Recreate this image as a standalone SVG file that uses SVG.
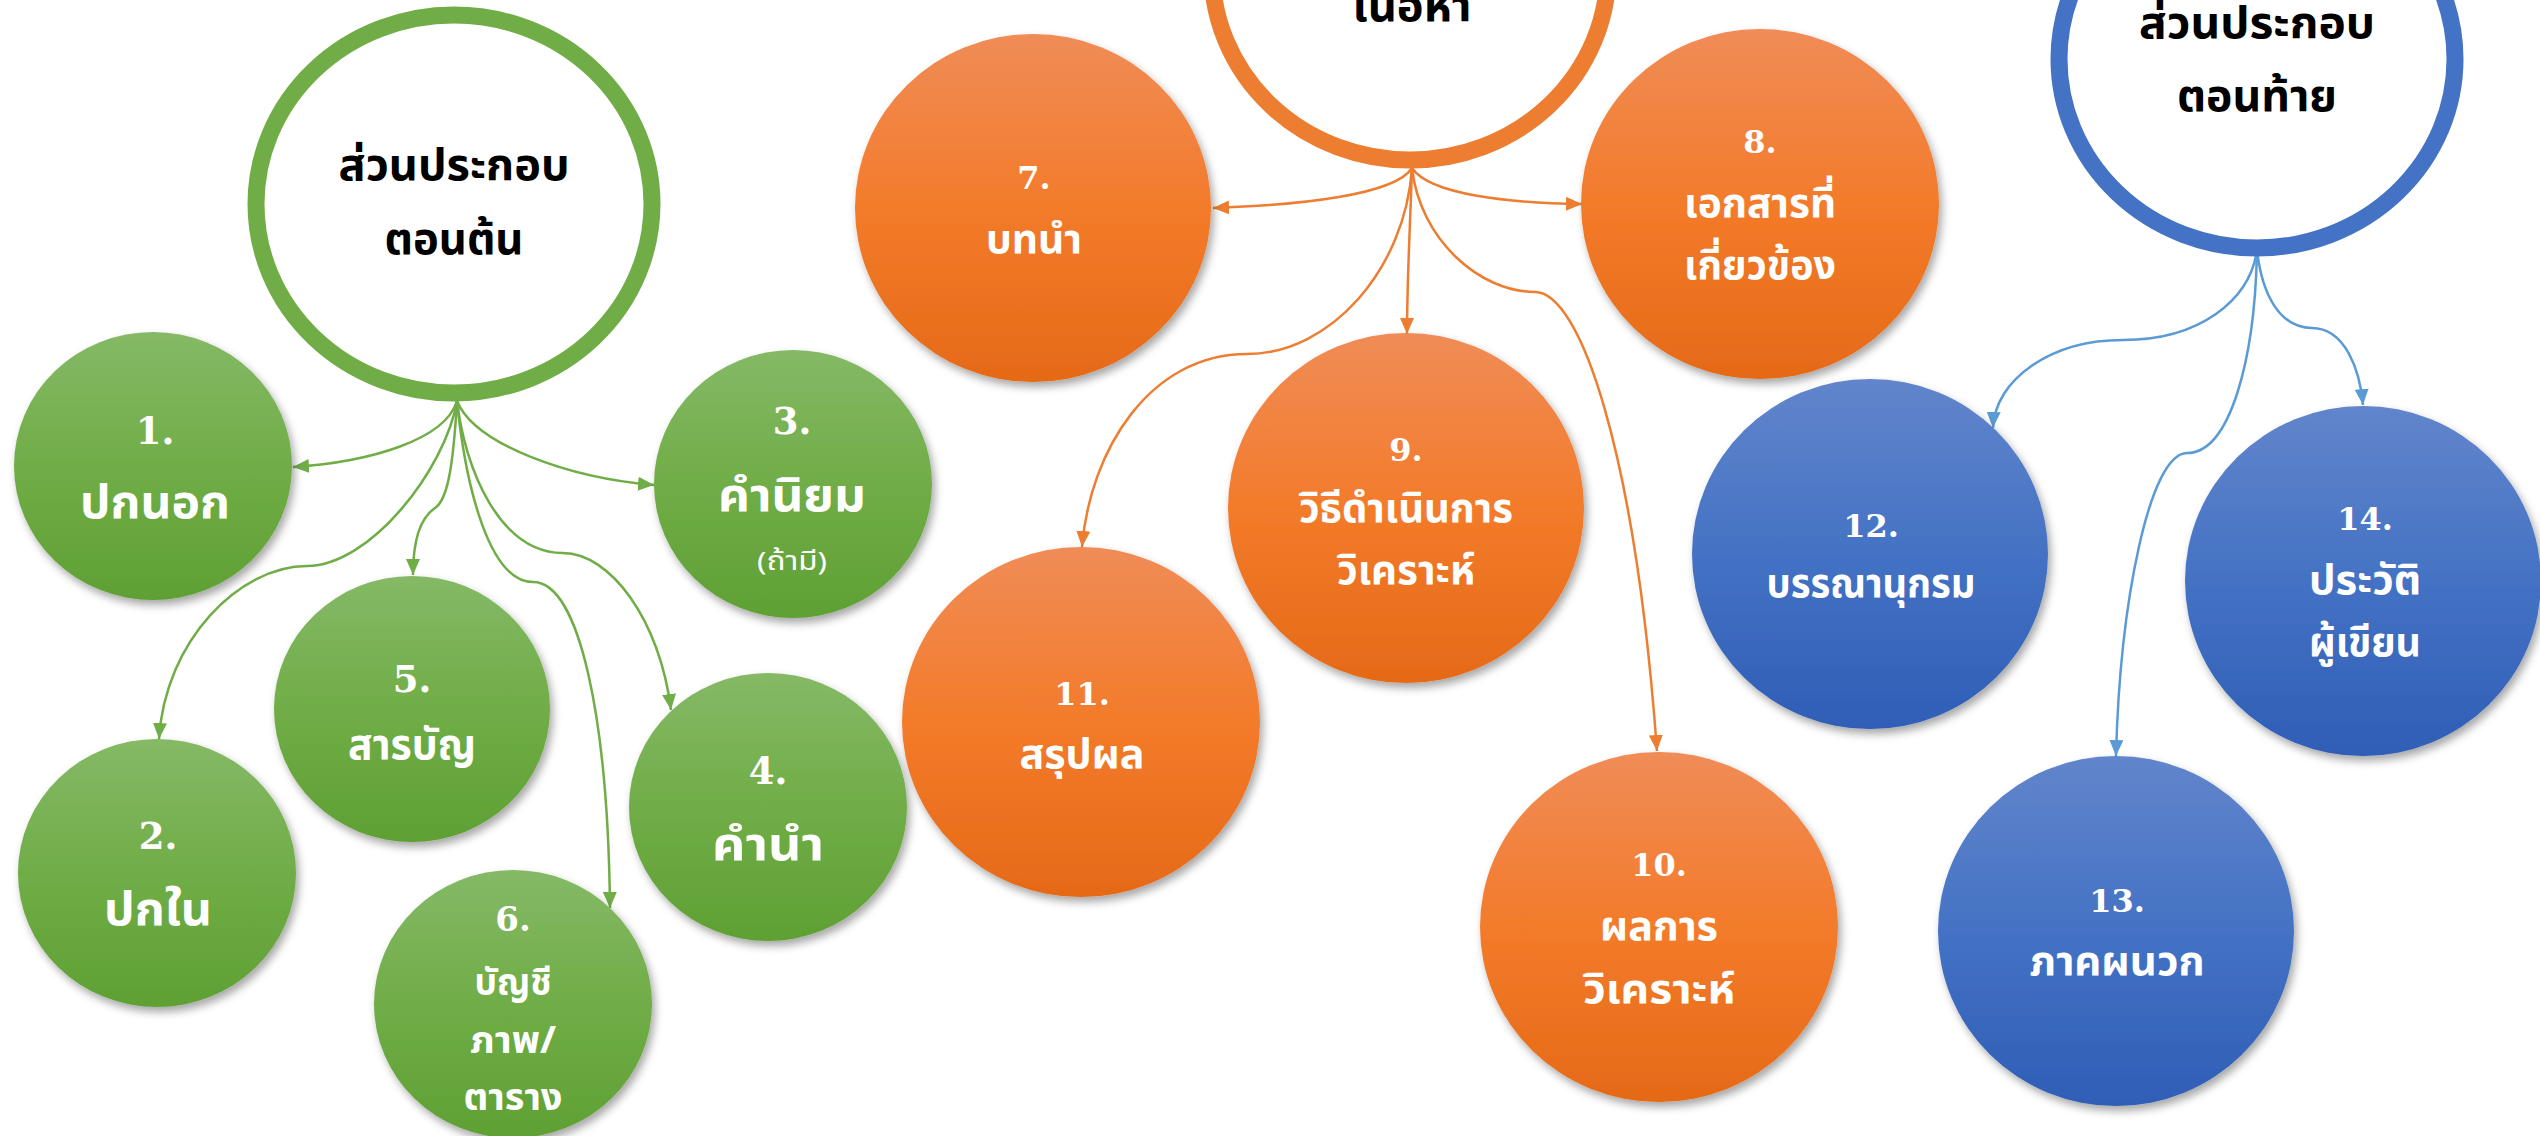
<svg xmlns="http://www.w3.org/2000/svg" width="2540" height="1136" viewBox="0 0 2540 1136">
<defs>
<linearGradient id="gG" x1="0" y1="0" x2="0" y2="1">
<stop offset="0" stop-color="#85B967"/><stop offset="0.5" stop-color="#70AD47"/><stop offset="1" stop-color="#5FA034"/>
</linearGradient>
<linearGradient id="gO" x1="0" y1="0" x2="0" y2="1">
<stop offset="0" stop-color="#F08C57"/><stop offset="0.5" stop-color="#F37B2A"/><stop offset="1" stop-color="#E56A18"/>
</linearGradient>
<linearGradient id="gB" x1="0" y1="0" x2="0" y2="1">
<stop offset="0" stop-color="#6285CB"/><stop offset="0.5" stop-color="#4472C4"/><stop offset="1" stop-color="#2F5EB6"/>
</linearGradient>
<filter id="sh" x="-20%" y="-20%" width="140%" height="140%">
<feDropShadow dx="3" dy="5" stdDeviation="4" flood-color="#000" flood-opacity="0.35"/>
</filter>
<marker id="mG" viewBox="0 0 16 14" refX="16" refY="7" markerWidth="16" markerHeight="14" markerUnits="userSpaceOnUse" orient="auto"><path d="M0,0 L16,7 L0,14 Z" fill="#70AD47"/></marker>
<marker id="mO" viewBox="0 0 16 14" refX="16" refY="7" markerWidth="16" markerHeight="14" markerUnits="userSpaceOnUse" orient="auto"><path d="M0,0 L16,7 L0,14 Z" fill="#ED7D31"/></marker>
<marker id="mB" viewBox="0 0 16 14" refX="16" refY="7" markerWidth="16" markerHeight="14" markerUnits="userSpaceOnUse" orient="auto"><path d="M0,0 L16,7 L0,14 Z" fill="#5B9BD5"/></marker>
</defs>
<style>
.hub{fill:#fff;stroke-width:17}
.ht{font-family:"Noto Sans Thai","Noto Sans Thai UI","Noto Serif Thai",Loma,Garuda,Sarabun,"Noto Sans",sans-serif;font-weight:bold;font-size:44px;fill:#000;text-anchor:middle}
.nd{filter:url(#sh)}
.g{fill:url(#gG)}
.o{fill:url(#gO)}
.b{fill:url(#gB)}
.num{font-family:"DejaVu Serif","Liberation Serif",serif;font-weight:bold;fill:#fff;text-anchor:middle;font-size:32px}
.lbl{font-family:"Noto Sans Thai","Noto Sans Thai UI","Noto Serif Thai",Loma,Garuda,Sarabun,"Noto Sans",sans-serif;font-weight:bold;fill:#fff;text-anchor:middle;font-size:40px}
.big{font-size:46px}
.gn{font-size:37px}
.cg{fill:none;stroke:#70AD47;stroke-width:2.5;marker-end:url(#mG)}
.co{fill:none;stroke:#ED7D31;stroke-width:2.5;marker-end:url(#mO)}
.cb{fill:none;stroke:#5B9BD5;stroke-width:2.5;marker-end:url(#mB)}
</style>
<rect width="2540" height="1136" fill="#fff"/>

<g id="connectors">
<path class="cg" d="M457,401 C445,440 370,462 293,467"/>
<path class="cg" d="M457,401 C475,445 570,478 654,485"/>
<path class="cg" d="M457,401 C453,470 447,500 435,508 C420,518 413,540 413,575"/>
<path class="cg" d="M457,401 C445,470 370,566 307,566 C240,566 165,640 159,739"/>
<path class="cg" d="M457,401 C465,470 500,553 563,553 C610,553 660,620 671,710"/>
<path class="cg" d="M457,401 C466,490 490,582 533,582 C580,582 608,720 610,908"/>
<path class="co" d="M1412,168 C1395,195 1300,205 1213,208"/>
<path class="co" d="M1412,168 C1430,195 1510,203 1582,204"/>
<path class="co" d="M1412,168 C1410,230 1407,280 1407,334"/>
<path class="co" d="M1412,168 C1405,270 1330,354 1247,354 C1150,354 1090,450 1082,547"/>
<path class="co" d="M1412,168 C1420,240 1480,292 1535,292 C1580,292 1635,450 1657,751"/>
<path class="cb" d="M2257,250 C2250,300 2200,340 2123,340 C2050,340 1995,380 1993,428"/>
<path class="cb" d="M2257,250 C2262,295 2280,328 2312,328 C2345,328 2360,370 2363,405"/>
<path class="cb" d="M2257,250 C2255,360 2230,453 2187,453 C2150,453 2120,600 2116,756"/>
</g>

<g id="hub-start">
<ellipse class="hub" cx="454" cy="204" rx="198" ry="189" stroke="#70AD47"/>
<text class="ht" x="454" y="180" textLength="231" lengthAdjust="spacingAndGlyphs">ส่วนประกอบ</text>
<text class="ht" x="454" y="254" textLength="139" lengthAdjust="spacingAndGlyphs">ตอนต้น</text>
</g>
<g id="hub-content">
<ellipse class="hub" cx="1410" cy="-29" rx="198" ry="189" stroke="#ED7D31"/>
<text class="ht" x="1412" y="21" textLength="119" lengthAdjust="spacingAndGlyphs">เนื้อหา</text>
</g>
<g id="hub-end">
<ellipse class="hub" cx="2257" cy="59" rx="198" ry="189" stroke="#4472C4"/>
<text class="ht" x="2257" y="38" textLength="236" lengthAdjust="spacingAndGlyphs">ส่วนประกอบ</text>
<text class="ht" x="2257" y="111" textLength="160" lengthAdjust="spacingAndGlyphs">ตอนท้าย</text>
</g>

<g id="n1"><ellipse class="nd g" cx="153" cy="466" rx="139" ry="134"/>
<text class="num gn" x="155" y="444">1.</text>
<text class="lbl big" x="155" y="518" textLength="150" lengthAdjust="spacingAndGlyphs">ปกนอก</text></g>
<g id="n2"><ellipse class="nd g" cx="157" cy="873" rx="139" ry="134"/>
<text class="num gn" x="158" y="849">2.</text>
<text class="lbl big" x="158" y="925" textLength="108" lengthAdjust="spacingAndGlyphs">ปกใน</text></g>
<g id="n3"><ellipse class="nd g" cx="793" cy="484" rx="139" ry="134"/>
<text class="num gn" x="792" y="434">3.</text>
<text class="lbl big" x="792" y="511" textLength="148" lengthAdjust="spacingAndGlyphs">คำนิยม</text>
<text class="lbl" x="792" y="570" style="font-size:26px;font-weight:normal" textLength="70" lengthAdjust="spacingAndGlyphs">(ถ้ามี)</text></g>
<g id="n4"><ellipse class="nd g" cx="768" cy="807" rx="139" ry="134"/>
<text class="num gn" x="768" y="784">4.</text>
<text class="lbl big" x="768" y="860" textLength="112" lengthAdjust="spacingAndGlyphs">คำนำ</text></g>
<g id="n5"><ellipse class="nd g" cx="412" cy="709" rx="138" ry="133"/>
<text class="num gn" x="412" y="692">5.</text>
<text class="lbl" x="412" y="759" style="font-size:42px" textLength="128" lengthAdjust="spacingAndGlyphs">สารบัญ</text></g>
<g id="n6"><ellipse class="nd g" cx="513" cy="1004" rx="139" ry="134"/>
<text class="num" x="513" y="931" style="font-size:34px">6.</text>
<text class="lbl" x="513" y="995" style="font-size:38px" textLength="77" lengthAdjust="spacingAndGlyphs">บัญชี</text>
<text class="lbl" x="513" y="1053" style="font-size:38px" textLength="86" lengthAdjust="spacingAndGlyphs">ภาพ/</text>
<text class="lbl" x="513" y="1110" style="font-size:38px" textLength="99" lengthAdjust="spacingAndGlyphs">ตาราง</text></g>

<g id="n7"><ellipse class="nd o" cx="1033" cy="208" rx="178" ry="174"/>
<text class="num" x="1034" y="189">7.</text>
<text class="lbl" x="1034" y="253" textLength="96" lengthAdjust="spacingAndGlyphs">บทนำ</text></g>
<g id="n8"><ellipse class="nd o" cx="1760" cy="204" rx="179" ry="175"/>
<text class="num" x="1760" y="153">8.</text>
<text class="lbl" x="1760" y="217" textLength="152" lengthAdjust="spacingAndGlyphs">เอกสารที่</text>
<text class="lbl" x="1760" y="279" textLength="152" lengthAdjust="spacingAndGlyphs">เกี่ยวข้อง</text></g>
<g id="n9"><ellipse class="nd o" cx="1406" cy="508" rx="178" ry="175"/>
<text class="num" x="1406" y="461">9.</text>
<text class="lbl" x="1406" y="522" textLength="214" lengthAdjust="spacingAndGlyphs">วิธีดำเนินการ</text>
<text class="lbl" x="1406" y="584" textLength="138" lengthAdjust="spacingAndGlyphs">วิเคราะห์</text></g>
<g id="n10"><ellipse class="nd o" cx="1659" cy="927" rx="179" ry="175"/>
<text class="num" x="1659" y="876">10.</text>
<text class="lbl" x="1659" y="940" textLength="118" lengthAdjust="spacingAndGlyphs">ผลการ</text>
<text class="lbl" x="1659" y="1003" textLength="152" lengthAdjust="spacingAndGlyphs">วิเคราะห์</text></g>
<g id="n11"><ellipse class="nd o" cx="1081" cy="722" rx="179" ry="175"/>
<text class="num" x="1082" y="705">11.</text>
<text class="lbl" x="1082" y="768" textLength="125" lengthAdjust="spacingAndGlyphs">สรุปผล</text></g>

<g id="n12"><ellipse class="nd b" cx="1870" cy="554" rx="178" ry="175"/>
<text class="num" x="1871" y="537">12.</text>
<text class="lbl" x="1871" y="597" textLength="209" lengthAdjust="spacingAndGlyphs">บรรณานุกรม</text></g>
<g id="n13"><ellipse class="nd b" cx="2116" cy="931" rx="178" ry="175"/>
<text class="num" x="2117" y="912">13.</text>
<text class="lbl" x="2117" y="975" textLength="175" lengthAdjust="spacingAndGlyphs">ภาคผนวก</text></g>
<g id="n14"><ellipse class="nd b" cx="2363" cy="581" rx="178" ry="175"/>
<text class="num" x="2365" y="530">14.</text>
<text class="lbl" x="2365" y="594" textLength="112" lengthAdjust="spacingAndGlyphs">ประวัติ</text>
<text class="lbl" x="2365" y="656" textLength="112" lengthAdjust="spacingAndGlyphs">ผู้เขียน</text></g>
</svg>
